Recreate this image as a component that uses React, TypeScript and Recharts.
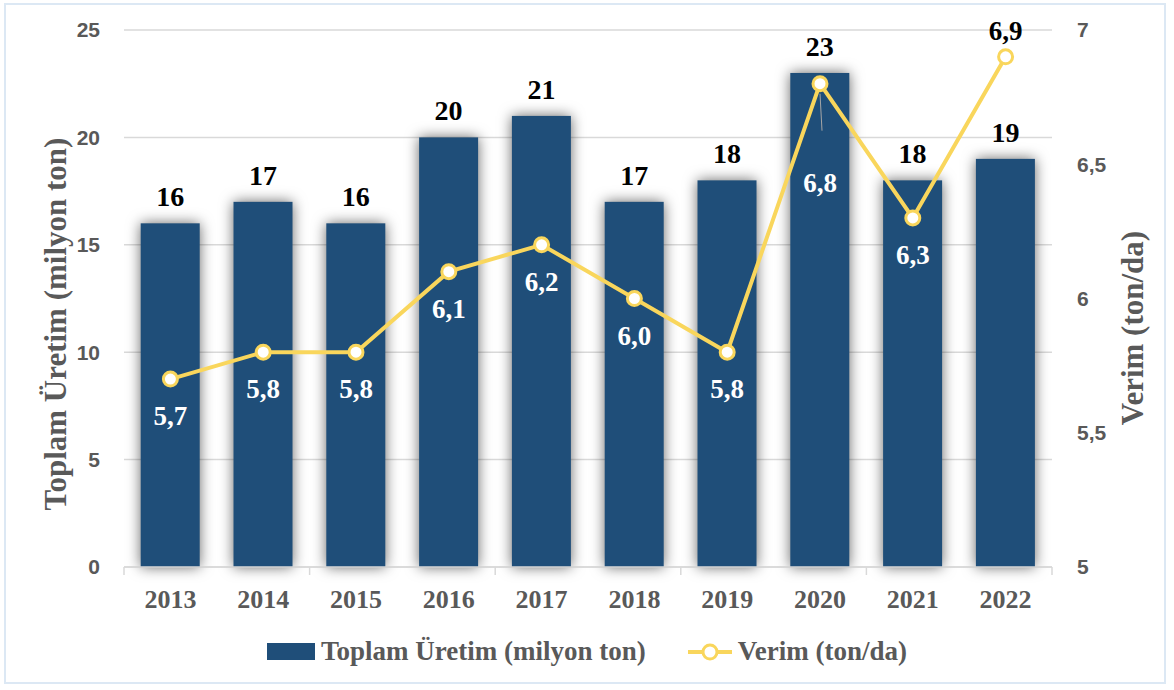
import React from "react";
import { ComposedChart, Bar, Line, XAxis, YAxis, CartesianGrid, LabelList } from "recharts";

const years = ["2013", "2014", "2015", "2016", "2017", "2018", "2019", "2020", "2021", "2022"];
const production = [16, 17, 16, 20, 21, 17, 18, 23, 18, 19];
const yieldPerDa = [5.7, 5.8, 5.8, 6.1, 6.2, 6.0, 5.8, 6.8, 6.3, 6.9];
const leftTicks = [0, 5, 10, 15, 20, 25];
const rightTicks = [5, 5.5, 6, 6.5, 7];

const data = years.map((year, i) => ({
    year,
    production: production[i],
    yield: yieldPerDa[i],
}));

const BAR_COLOR = "#1f4e79";
const LINE_COLOR = "#f9d65c";
const GRAY = "#595959";
const SERIF = '"Liberation Serif", "Times New Roman", serif';
const SANS = '"Liberation Sans", Arial, sans-serif';

const fmt = (v: number) => String(v).replace(".", ",");

const GlowBar = (props: any) => {
    const { x, y, width, height } = props;
    return (
        <rect
            x={x}
            y={y}
            width={width}
            height={height}
            fill={BAR_COLOR}
            style={{ filter: "drop-shadow(0px 0px 7px rgba(0,0,0,0.6))" }}
        />
    );
};

const XTick = (props: any) => {
    const { x, y, payload, index } = props;
    const half = 46.4;
    return (
        <g>
            {index % 2 === 0 && (
                <line x1={x - half} x2={x - half} y1={y - 8} y2={y} stroke="#d9d9d9" strokeWidth={1.5} />
            )}
            {index === years.length - 1 && (
                <line x1={x + half} x2={x + half} y1={y - 8} y2={y} stroke="#d9d9d9" strokeWidth={1.5} />
            )}
            <text x={x} y={y + 33} textAnchor="middle" fill={GRAY} fontFamily={SERIF} fontWeight="bold" fontSize={26}>
                {payload.value}
            </text>
        </g>
    );
};

const YieldLabel = (props: any) => {
    const { x, y, value, index } = props;
    const text = Number(value).toFixed(1).replace(".", ",");
    if (index === 9) {
        return (
            <text x={x} y={y - 17} textAnchor="middle" fill="#000" fontFamily={SERIF} fontWeight="bold" fontSize={27}>
                {text}
            </text>
        );
    }
    if (index === 7) {
        return (
            <g>
                <line x1={x} x2={x + 2} y1={y + 10} y2={y + 47} stroke="#a6a6a6" strokeWidth={1} />
                <text x={x} y={y + 108} textAnchor="middle" fill="#fff" fontFamily={SERIF} fontWeight="bold" fontSize={27}>
                    {text}
                </text>
            </g>
        );
    }
    return (
        <text x={x} y={y + 46} textAnchor="middle" fill="#fff" fontFamily={SERIF} fontWeight="bold" fontSize={27}>
            {text}
        </text>
    );
};

const LeftTitle = () => (
    <text
        x={66}
        y={324}
        transform="rotate(-90 66 324)"
        textAnchor="middle"
        fill={GRAY}
        fontFamily={SERIF}
        fontWeight="bold"
        fontSize={31}
    >
        Toplam Üretim (milyon ton)
    </text>
);

const RightTitle = () => (
    <text
        x={1143}
        y={328}
        transform="rotate(-90 1143 328)"
        textAnchor="middle"
        fill={GRAY}
        fontFamily={SERIF}
        fontWeight="bold"
        fontSize={31}
    >
        Verim (ton/da)
    </text>
);

export default function App() {
    return (
        <div style={{ position: "absolute", left: 0, top: 0, width: 1174, height: 690, background: "#fff" }}>
            <div
                style={{
                    position: "absolute",
                    left: 4,
                    top: 3,
                    width: 1162,
                    height: 681,
                    border: "2px solid #dce8f4",
                    boxSizing: "border-box",
                }}
            />
            <ComposedChart
                width={1174}
                height={690}
                data={data}
                margin={{ top: 30, right: 0, bottom: 73, left: 0 }}
                barCategoryGap="18%"
            >
                <CartesianGrid vertical={false} stroke="#d9d9d9" strokeWidth={1.5} yAxisId="left" />
                <XAxis
                    dataKey="year"
                    height={50}
                    axisLine={{ stroke: "#d9d9d9", strokeWidth: 1.5 }}
                    tickLine={false}
                    tick={<XTick />}
                    interval={0}
                />
                <YAxis
                    yAxisId="left"
                    width={124}
                    domain={[0, 25]}
                    ticks={leftTicks}
                    axisLine={false}
                    tickLine={false}
                    tickMargin={18}
                    tick={{ fill: GRAY, fontFamily: SANS, fontWeight: "bold", fontSize: 21 }}
                    label={{ content: <LeftTitle /> }}
                />
                <YAxis
                    yAxisId="right"
                    orientation="right"
                    width={122}
                    domain={[5, 7]}
                    ticks={rightTicks}
                    axisLine={false}
                    tickLine={false}
                    tickMargin={19}
                    tickFormatter={fmt}
                    tick={{ fill: GRAY, fontFamily: SANS, fontWeight: "bold", fontSize: 21 }}
                    label={{ content: <RightTitle /> }}
                />
                <Bar yAxisId="left" dataKey="production" fill={BAR_COLOR} shape={<GlowBar />} isAnimationActive={false}>
                    <LabelList
                        dataKey="production"
                        position="top"
                        offset={17}
                        style={{ fill: "#000", fontFamily: SERIF, fontWeight: "bold", fontSize: 28 }}
                    />
                </Bar>
                <Line
                    yAxisId="right"
                    dataKey="yield"
                    stroke={LINE_COLOR}
                    strokeWidth={4}
                    dot={{ r: 7, fill: "#fff", stroke: LINE_COLOR, strokeWidth: 3 }}
                    isAnimationActive={false}
                >
                    <LabelList dataKey="yield" content={<YieldLabel />} />
                </Line>
            </ComposedChart>
            <div
                style={{
                    position: "absolute",
                    top: 636,
                    left: 0,
                    width: 1174,
                    display: "flex",
                    justifyContent: "center",
                    alignItems: "center",
                    fontFamily: SERIF,
                    fontWeight: "bold",
                    fontSize: 27,
                    color: GRAY,
                }}
            >
                <span style={{ display: "inline-block", width: 48, height: 17, background: BAR_COLOR, marginRight: 6 }} />
                <span>Toplam Üretim (milyon ton)</span>
                <svg width={48} height={20} style={{ marginLeft: 40, marginRight: 4 }}>
                    <line x1={2} x2={46} y1={10} y2={10} stroke={LINE_COLOR} strokeWidth={4} />
                    <circle cx={24} cy={10} r={7} fill="#fff" stroke={LINE_COLOR} strokeWidth={3} />
                </svg>
                <span>Verim (ton/da)</span>
            </div>
        </div>
    );
}
